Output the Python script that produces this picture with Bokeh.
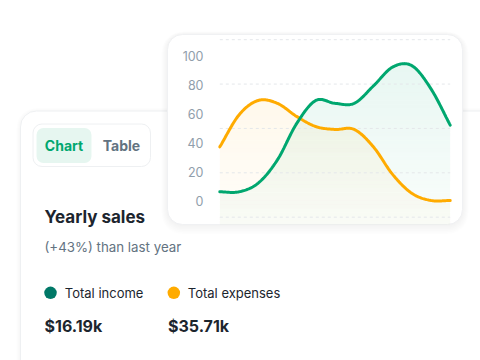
import numpy as np
from bokeh.plotting import figure
from bokeh.models import Range1d, BoxAnnotation
from bokeh.core.properties import value
from bokeh.embed import file_html
from bokeh.resources import INLINE

# ---------------- data ----------------
POINTS = list(range(13))
INCOME = [6, 6, 12, 28, 53, 69, 67, 67, 79, 92, 93, 77, 52]
EXPENSES = [37, 59, 69, 67, 58, 51, 49, 49, 37, 18, 5, 0, 0]
Y_TICKS = [0, 20, 40, 60, 80, 100]
Y_TICK_LABELS = ["0", "20", "40", "60", "80", "100"]
GRID_VALUES = [-11.5, 19.1, 49.7, 80.3, 110.9]
TABS = ["Chart", "Table"]
SERIES_NAMES = ["Total income", "Total expenses"]
SERIES_TOTALS = ["$16.19k", "$35.71k"]
TITLE = "Yearly sales"
SUBTITLE = "(+43%) than last year"

# ---------------- style / layout ----------------
W, H = 480, 360
FONT = value("Inter")
GREEN = "#00A76F"
DARK_GREEN = "#007867"
ORANGE = "#FFAB00"
TEXT = "#1C252E"
GREY = "#637381"
LIGHT = "#919EAB"

CH_L, CH_R = 219.3, 449.7          # chart plotting area (px)
Y0_PX, Y100_PX = 200.0, 55.0       # where 0 and 100 sit (px)
FRONT = (167, 34, 462, 224)        # front card l, t, r, b
BACK = (20, 110.5, 520, 420)       # back card
TABBOX = (32.5, 123.5, 150, 166)
TABSEL = (36, 127.5, 91, 162.5)
ALPHA_TOP, ALPHA_BOTTOM = 0.095, 0.022   # area fade
BAND_PX = 4

px_per_idx = (CH_R - CH_L) / (len(POINTS) - 1)
px_per_unit = (Y0_PX - Y100_PX) / 100.0
cx = Range1d(POINTS[0] - CH_L / px_per_idx, POINTS[-1] + (W - CH_R) / px_per_idx)
cy = Range1d((Y0_PX - H) / px_per_unit, Y0_PX / px_per_unit)


def px_to_val(ypx):
    return (Y0_PX - ypx) / px_per_unit


def smooth(xs, ys, n=24):
    xs = np.asarray(xs, float)
    ys = np.asarray(ys, float)
    m = np.gradient(ys, xs)
    ox, oy = [], []
    for i in range(len(xs) - 1):
        h = xs[i + 1] - xs[i]
        t = np.linspace(0, 1, n, endpoint=False)
        h00 = 2 * t**3 - 3 * t**2 + 1
        h10 = t**3 - 2 * t**2 + t
        h01 = -2 * t**3 + 3 * t**2
        h11 = t**3 - t**2
        ox.extend(xs[i] + t * h)
        oy.extend(h00 * ys[i] + h10 * h * m[i] + h01 * ys[i + 1] + h11 * h * m[i + 1])
    ox.append(xs[-1])
    oy.append(ys[-1])
    return np.array(ox), np.array(oy)


p = figure(width=W, height=H, x_range=Range1d(0, W), y_range=Range1d(H, 0),
           output_backend="svg", toolbar_location=None, min_border=0,
           x_axis_location=None, y_axis_location=None)
p.grid.visible = False
p.outline_line_color = None
p.background_fill_color = "white"
p.border_fill_color = "white"
p.extra_x_ranges = {"cx": cx}
p.extra_y_ranges = {"cy": cy}


def box(l, t, r, b, fill="white", fill_alpha=1.0, line=None, radius=0, line_alpha=1.0):
    bx = BoxAnnotation(left=l, right=r, top=t, bottom=b, fill_color=fill, fill_alpha=fill_alpha,
                       line_color=line, line_alpha=line_alpha, line_width=1,
                       border_radius=radius, level="underlay")
    p.add_layout(bx)


# back card + soft shadow
for i in range(1, 5):
    box(BACK[0] - i, BACK[1] - i + 1, BACK[2], BACK[3], fill="#1C252E", fill_alpha=0.006, radius=16 + i)
box(*BACK, fill="white", line="#EEF0F2", radius=16)

# tabs
box(*TABBOX, fill="white", line="#EEF0F2", radius=9)
box(*TABSEL, fill="#E6F6F0", radius=7)

# front card + shadow
for i in range(1, 7):
    box(FRONT[0] - i, FRONT[1] - i * 0.5, FRONT[2] + i, FRONT[3] + i * 1.6,
        fill="#1C252E", fill_alpha=0.007, radius=15 + i)
box(*FRONT, fill="white", line="#F0F1F3", radius=15)

# areas with a vertical fade: pixel-aligned horizontal bands
ex_x, ex_y = smooth(POINTS, EXPENSES)
in_x, in_y = smooth(POINTS, INCOME)
band_edges_px = np.arange(FRONT[3], Y100_PX - 16, -BAND_PX)
for xs, ys, col in ((ex_x, ex_y, ORANGE), (in_x, in_y, GREEN)):
    for k in range(len(band_edges_px) - 1):
        lo_px, hi_px = band_edges_px[k], band_edges_px[k + 1]
        lo, hi = px_to_val(lo_px), px_to_val(hi_px)
        if ys.max() <= lo:
            continue
        frac = (FRONT[3] - (lo_px + hi_px) / 2) / (FRONT[3] - Y100_PX)
        a = ALPHA_BOTTOM + (ALPHA_TOP - ALPHA_BOTTOM) * min(max(frac, 0), 1)
        p.varea(x=xs, y1=np.clip(ys, lo, hi), y2=lo, fill_color=col, fill_alpha=a,
                x_range_name="cx", y_range_name="cy")

# dashed grid
p.segment(x0=[POINTS[0]] * len(GRID_VALUES), x1=[POINTS[-1]] * len(GRID_VALUES),
          y0=GRID_VALUES, y1=GRID_VALUES, line_color="#E4E7EA", line_width=1,
          line_dash="3 3", x_range_name="cx", y_range_name="cy")

# lines
p.line(ex_x, ex_y, line_color=ORANGE, line_width=3, line_cap="round",
       x_range_name="cx", y_range_name="cy")
p.line(in_x, in_y, line_color=GREEN, line_width=3, line_cap="round",
       x_range_name="cx", y_range_name="cy")

# y tick labels
p.text(x=[203] * len(Y_TICKS), y=Y_TICKS, text=Y_TICK_LABELS, text_font=FONT,
       text_font_size="12.5px", text_color=LIGHT, text_align="right",
       text_baseline="middle", y_range_name="cy")

# tabs text
p.text(x=[63.5], y=[145], text=[TABS[0]], text_font=FONT, text_font_size="14px",
       text_font_style="bold", text_color=GREEN, text_align="center", text_baseline="middle")
p.text(x=[121], y=[145], text=[TABS[1]], text_font=FONT, text_font_size="14px",
       text_font_style="bold", text_color=GREY, text_align="center", text_baseline="middle")

# title & subtitle
p.text(x=[44], y=[216.5], text=[TITLE], text_font=FONT, text_font_size="17px",
       text_font_style="bold", text_color=TEXT, text_align="left", text_baseline="middle")
p.text(x=[44], y=[246], text=[SUBTITLE], text_font=FONT, text_font_size="13.3px",
       text_color=GREY, text_align="left", text_baseline="middle")

# legend
p.scatter(x=[50, 173.3], y=[292.3, 292.3], size=12.5, fill_color=[DARK_GREEN, ORANGE],
          line_color=None)
p.text(x=[64.3, 187.3], y=[292, 292], text=SERIES_NAMES, text_font=FONT,
       text_font_size="13px", text_color=TEXT, text_align="left", text_baseline="middle")
p.text(x=[44, 167.5], y=[325, 325], text=SERIES_TOTALS, text_font=FONT,
       text_font_size="16px", text_font_style="bold", text_color=TEXT,
       text_align="left", text_baseline="middle")

open("out.html", "w").write(file_html(p, INLINE))
